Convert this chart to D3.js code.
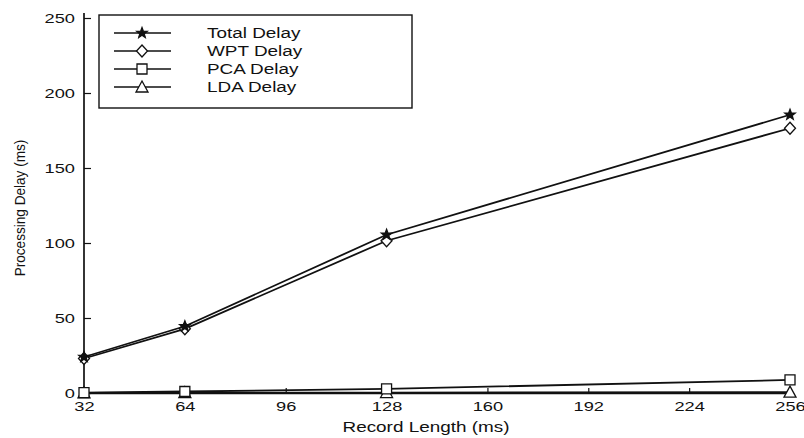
<!DOCTYPE html>
<html>
<head>
<meta charset="utf-8">
<script src="https://cdn.jsdelivr.net/npm/d3@7"></script>
<style>
  html, body { margin: 0; padding: 0; background: #fff; }
  svg { display: block; }
  text { font-family: "Liberation Sans", Arial, Helvetica, sans-serif; fill: #111; }
</style>
</head>
<body>
<svg id="chart" width="804" height="438"></svg>
<script>
// Record lengths (ms) and processing delays (ms) for each stage
const recordLengths = [32, 64, 128, 256];
const totalDelay = [24, 44.5, 105.5, 185.5];
const wptDelay   = [23, 42.8, 101.5, 176.5];
const pcaDelay   = [0.3, 1.0, 2.7, 8.7];
const ldaDelay   = [0.1, 0.2, 0.3, 0.6];

const xTicks = [32, 64, 96, 128, 160, 192, 224, 256];
const yTicks = [0, 50, 100, 150, 200, 250];

const seriesNames = ["Total Delay", "WPT Delay", "PCA Delay", "LDA Delay"];
const seriesValues = [totalDelay, wptDelay, pcaDelay, ldaDelay];
const seriesMarkers = ["star", "diamond", "square", "triangle"];

const svg = d3.select("#chart");
const margin = { left: 84, right: 14, top: 18, bottom: 45 };
const W = 804, H = 438;
const WIDEN = 1.35; // horizontal widening of the lettering

const x = d3.scaleLinear().domain([32, 256]).range([margin.left, W - margin.right]);
const y = d3.scaleLinear().domain([0, 250]).range([H - margin.bottom, margin.top]);

const ink = "#111";

// widen text horizontally while keeping its anchor
function widen(sel, k) {
  sel.each(function () {
    const w = this.getComputedTextLength();
    d3.select(this).attr("textLength", w * k).attr("lengthAdjust", "spacingAndGlyphs");
  });
}

// Axes with inward-pointing ticks
const xAxis = d3.axisBottom(x).tickValues(xTicks).tickSizeInner(-5).tickSizeOuter(0).tickPadding(8);
const yAxis = d3.axisLeft(y).tickValues(yTicks).tickSizeInner(-7).tickSizeOuter(0).tickPadding(9);

const gx = svg.append("g").attr("transform", `translate(0,${y(0)})`).call(xAxis);
const gy = svg.append("g").attr("transform", `translate(${x(32)},0)`).call(yAxis);
[gx, gy].forEach(g => {
  g.select(".domain").attr("stroke", ink).attr("stroke-width", 1.7);
  g.selectAll(".tick line").attr("stroke", ink).attr("stroke-width", 1.2);
  g.selectAll(".tick text").style("font-size", "13.5px").attr("fill", ink)
    .style("font-family", "'Liberation Sans', Arial, sans-serif");
  widen(g.selectAll(".tick text"), WIDEN);
});
// extend y axis slightly above the 250 tick
gy.select(".domain").attr("d", `M0,${y(0)}V${y(250) - 5}`);

// Axis titles
const xTitle = svg.append("text")
  .attr("x", 426).attr("y", 432)
  .attr("text-anchor", "middle").style("font-size", "14px")
  .text("Record Length (ms)");
widen(xTitle, WIDEN);
svg.append("text")
  .attr("transform", `translate(25,208) rotate(-90) scale(1,1.1)`)
  .attr("text-anchor", "middle").style("font-size", "13.6px")
  .text("Processing Delay (ms)");

// Marker shapes
function starPath(r) {
  const pts = [];
  for (let i = 0; i < 10; i++) {
    const a = -Math.PI / 2 + i * Math.PI / 5;
    const rr = i % 2 === 0 ? r : r * 0.42;
    pts.push([rr * Math.cos(a), rr * Math.sin(a)]);
  }
  return "M" + pts.map(p => p.join(",")).join("L") + "Z";
}
function drawMarker(g, type, cx, cy) {
  const m = g.append("path").attr("transform", `translate(${cx},${cy})`)
    .attr("stroke", ink).attr("stroke-width", 1.3);
  if (type === "star") {
    m.attr("d", starPath(5.5)).attr("fill", ink);
  } else if (type === "diamond") {
    m.attr("d", "M0,-6L5.5,0L0,6L-5.5,0Z").attr("fill", "#fff");
  } else if (type === "square") {
    m.attr("d", "M-5,-5H5V5H-5Z").attr("fill", "#fff");
  } else {
    m.attr("d", "M0,-6L6,5H-6Z").attr("fill", "#fff");
  }
}

const line = d3.line().x(d => x(d[0])).y(d => y(d[1]));
const plot = svg.append("g");
// draw lower series first so upper lines sit on top
for (let s = seriesValues.length - 1; s >= 0; s--) {
  const pts = recordLengths.map((r, i) => [r, seriesValues[s][i]]);
  plot.append("path").datum(pts).attr("d", line)
    .attr("fill", "none").attr("stroke", ink).attr("stroke-width", 1.8);
  pts.forEach(p => drawMarker(plot, seriesMarkers[s], x(p[0]), y(p[1])));
}

// Legend
const leg = svg.append("g");
leg.append("rect").attr("x", 99).attr("y", 15).attr("width", 313).attr("height", 93)
  .attr("fill", "#fff").attr("stroke", ink).attr("stroke-width", 1.4);
seriesNames.forEach((name, i) => {
  const ly = 33 + i * 18;
  leg.append("line").attr("x1", 114).attr("x2", 171).attr("y1", ly).attr("y2", ly)
    .attr("stroke", ink).attr("stroke-width", 1.6);
  drawMarker(leg, seriesMarkers[i], 142, ly);
  const t = leg.append("text").attr("x", 207).attr("y", ly + 5).style("font-size", "14px").text(name);
  widen(t, WIDEN);
});
</script>
</body>
</html>
